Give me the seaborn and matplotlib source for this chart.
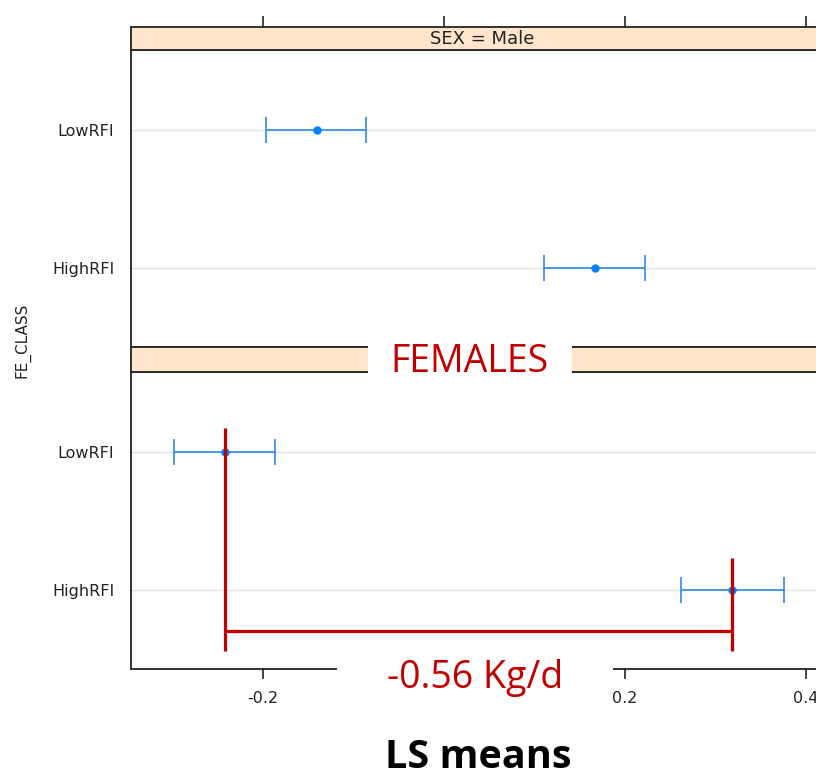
import numpy as np
import pandas as pd
import matplotlib
matplotlib.use("Agg")
import matplotlib.pyplot as plt
import seaborn as sns
from matplotlib.patches import Rectangle

# ---------------- data ----------------
sexes = ["Male", "Female"]
classes = ["LowRFI", "HighRFI"]
male_means = [-0.140, 0.167]
male_lower = [-0.197, 0.110]
male_upper = [-0.086, 0.222]
female_means = [-0.242, 0.318]
female_lower = [-0.298, 0.262]
female_upper = [-0.187, 0.376]
xticks = [-0.2, 0.0, 0.2, 0.4]
xtick_labels = ["-0.2", "", "0.2", "0.4"]   # 0.0 is hidden under the annotation box
diff_label = "-0.56 Kg/d"
panel_title = "FEMALES"
x_title = "LS means"
y_title = "FE_CLASS"

df = pd.DataFrame({
    "SEX": np.repeat(sexes, len(classes)),
    "FE_CLASS": classes * len(sexes),
    "mean": male_means + female_means,
    "lower": male_lower + female_lower,
    "upper": male_upper + female_upper,
})

sns.set_theme(style="white")
plt.rcParams['font.family'] = ['DejaVu Sans']

W, H = 816, 783
fig = plt.figure(figsize=(W / 100, H / 100), dpi=100)
fig.patch.set_facecolor("white")


def rect(x0, y0, x1, y1):
    return [x0 / W, 1 - y1 / H, (x1 - x0) / W, (y1 - y0) / H]


XL, XR = 131, 833
xlim = (-0.346, 0.430)
ylim = (1.57, -0.58)
blue = "#0080ff"
ebar_blue = "#2f8ae0"
red = "#C00000"
strip_col = "#ffe5cc"
ink = "#222222"

layout = {"Male": ((27, 50), (50, 347)), "Female": ((347, 372), (372, 669))}
axes = {}
for sex in sexes:
    (s0, s1), (p0, p1) = layout[sex]
    ax = fig.add_axes(rect(XL, p0, XR, p1))
    sub = df[df["SEX"] == sex]
    ypos = np.arange(len(classes))
    for y in ypos:
        ax.axhline(y, color="#e3e3e3", lw=1, zorder=0)
    ax.errorbar(sub["mean"], ypos,
                xerr=[sub["mean"] - sub["lower"], sub["upper"] - sub["mean"]],
                fmt="none", ecolor=ebar_blue, elinewidth=1.2, capsize=9.4,
                capthick=1.2, zorder=2)
    sns.scatterplot(data=sub, x="mean", y="FE_CLASS", ax=ax, color=blue,
                    s=36, edgecolor=blue, linewidth=0, zorder=3, legend=False)
    ax.set_xlim(*xlim)
    ax.set_ylim(*ylim)
    ax.set_yticks(ypos)
    ax.set_yticklabels(classes, fontsize=11.5, color=ink)
    ax.tick_params(axis="y", length=0, pad=12)
    ax.set_xlabel("")
    ax.set_ylabel("")
    for sp in ax.spines.values():
        sp.set_color(ink)
        sp.set_linewidth(1.3)
    if sex == "Female":
        ax.set_xticks(xticks)
        ax.set_xticklabels(xtick_labels, fontsize=11.5, color=ink)
        ax.tick_params(axis="x", bottom=True, direction="out", length=7,
                       width=1.2, color=ink, pad=9)
    else:
        ax.set_xticks([])
    axes[sex] = ax

    # strip
    sax = fig.add_axes(rect(XL, s0, XR, s1))
    sax.set_facecolor(strip_col)
    sax.set_xlim(*xlim)
    sax.set_yticks([])
    for sp in sax.spines.values():
        sp.set_color(ink)
        sp.set_linewidth(1.3)
    if sex == "Male":
        sax.text(0.5, 0.5, f"SEX = {sex}", transform=sax.transAxes,
                 ha="center", va="center", fontsize=13, color=ink)
        sax.set_xticks(xticks)
        sax.tick_params(axis="x", top=True, bottom=False, labeltop=False,
                        labelbottom=False, direction="out", length=8,
                        width=1.2, color=ink)
    else:
        sax.set_xticks([])

fig.text(22 / W, 1 - 340 / H, y_title, rotation=90, ha="center",
         va="center", fontsize=11, color=ink)

# ---------------- red annotations ----------------
axf = axes["Female"]
lo, hi = female_means[0], female_means[1]
axf.plot([lo, lo], [-0.174, 1.438], color=red, lw=2.3, zorder=5,
         solid_capstyle="butt")
axf.plot([hi, hi], [0.770, 1.438], color=red, lw=2.3, zorder=5,
         solid_capstyle="butt")
axf.plot([lo, hi], [1.293, 1.293], color=red, lw=2.3, zorder=5,
         solid_capstyle="butt")

ann_font = ["Open Sans", "DejaVu Sans"]
fig.patches.append(Rectangle((368 / W, 1 - 384 / H), (572 - 368) / W,
                             (384 - 343) / H, transform=fig.transFigure,
                             facecolor="white", edgecolor="none", zorder=10))
fig.text(470 / W, 1 - 362 / H, panel_title, ha="center", va="center",
         fontsize=27, color=red, family=ann_font, zorder=11)

fig.patches.append(Rectangle((337 / W, 1 - 712 / H), (613 - 337) / W,
                             (712 - 655) / H, transform=fig.transFigure,
                             facecolor="white", edgecolor="none", zorder=10))
fig.text(475 / W, 1 - 678 / H, diff_label, ha="center", va="center",
         fontsize=27, color=red, family=ann_font, zorder=11)

fig.text(478 / W, 1 - 758 / H, x_title, ha="center", va="center",
         fontsize=28.5, fontweight="bold", color="black", family=ann_font)

fig.savefig("out.png", dpi=100)
